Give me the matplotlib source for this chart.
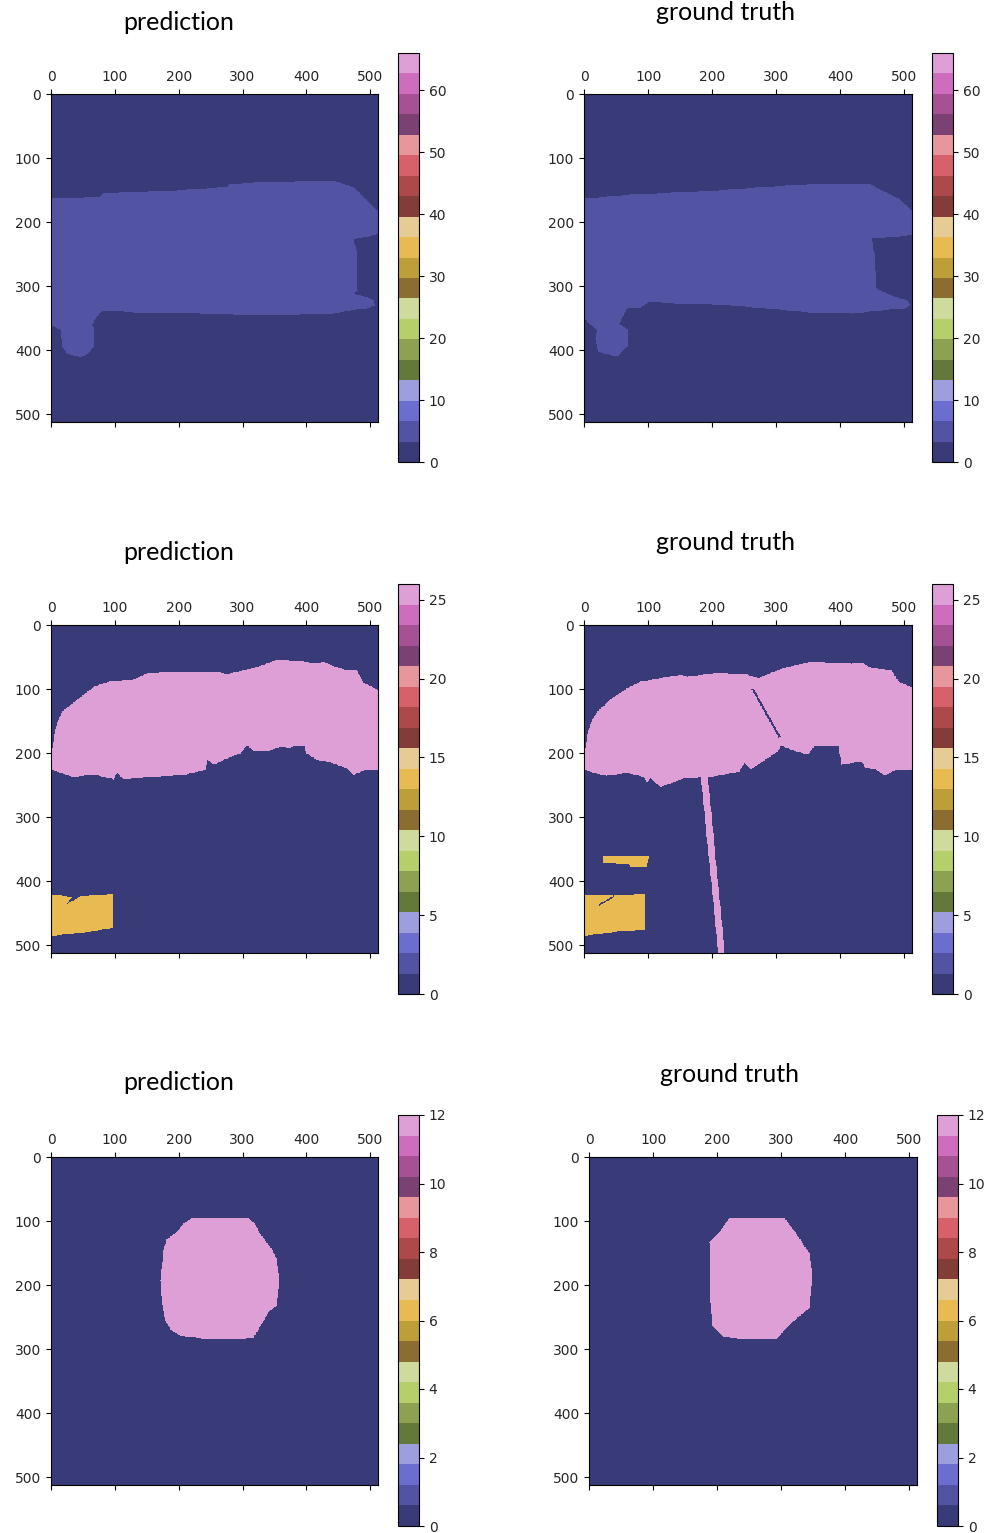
import numpy as np
import matplotlib
matplotlib.use("Agg")
import matplotlib.pyplot as plt
from matplotlib.path import Path

plt.rcParams["font.family"] = ["DejaVu Sans"]

# ---------------- data ----------------
IMG_SIZE = 513

# row 1 : class values and colorbar ranges
row1_vmax = 66
row1_ticks = [0, 10, 20, 30, 40, 50, 60]
row1_object_value = 5
row1_pred_outline = [(0, 163), (77, 160), (82, 155), (129, 153), (197, 150), (276, 145), (281, 140),
                     (338, 137), (427, 135), (443, 135), (474, 145), (495, 166), (510, 181), (513, 181),
                     (513, 218), (495, 223), (474, 227), (479, 244), (480, 307), (474, 312), (495, 317),
                     (505, 322), (508, 330), (495, 335), (469, 338), (443, 343), (390, 344), (286, 344),
                     (234, 343), (129, 341), (82, 338), (72, 346), (64, 361), (68, 367), (67, 394),
                     (57, 406), (46, 411), (25, 406), (17, 395), (15, 369), (2, 362), (0, 343)]
row1_gt_outline = [(0, 163), (72, 157), (197, 151), (281, 145), (380, 139), (443, 139), (463, 150),
                   (490, 163), (510, 181), (514, 187), (514, 220), (448, 226), (452, 249), (456, 304),
                   (479, 315), (503, 322), (508, 330), (500, 335), (463, 338), (417, 343), (360, 342),
                   (229, 330), (140, 327), (101, 325), (88, 333), (67, 335), (54, 359), (67, 367),
                   (67, 395), (51, 410), (22, 403), (17, 382), (20, 369), (0, 351)]

# row 2
row2_vmax = 26
row2_ticks = [0, 5, 10, 15, 20, 25]
row2_umbrella_value = 26
row2_chair_value = 13
row2_pred_canopy = [(-1, 218), (4, 174), (9, 153), (17, 135), (41, 116), (67, 96), (93, 87), (129, 85),
                    (150, 75), (208, 72), (265, 74), (276, 76), (317, 67), (354, 54), (390, 56), (417, 60),
                    (427, 57), (443, 64), (458, 69), (479, 70), (490, 90), (513, 101), (513, 226),
                    (490, 227), (474, 234), (463, 223), (436, 214), (416, 210), (400, 200), (397, 188),
                    (380, 189), (375, 192), (360, 190), (343, 196), (317, 196), (307, 188), (297, 200),
                    (276, 208), (255, 218), (244, 210), (242, 226), (208, 234), (155, 237), (114, 241),
                    (103, 230), (98, 241), (67, 233), (35, 237), (15, 231), (-1, 225)]
row2_pred_chair = [(-1, 421), (33, 425), (23, 437), (46, 424), (88, 421), (97, 420), (97, 473),
                   (62, 479), (-1, 486)]
row2_gt_canopy = [(-1, 218), (4, 174), (12, 148), (20, 135), (41, 116), (67, 98), (88, 88), (151, 77),
                  (161, 80), (208, 74), (255, 77), (271, 83), (292, 74), (317, 65), (354, 57), (417, 60),
                  (432, 58), (448, 67), (479, 70), (490, 88), (513, 98), (513, 226), (484, 227),
                  (469, 235), (453, 225), (438, 223), (433, 213), (401, 218), (396, 188), (359, 189),
                  (349, 202), (323, 195), (307, 188), (302, 197), (281, 211), (260, 225), (250, 215),
                  (242, 229), (197, 237), (156, 239), (119, 253), (103, 239), (98, 247), (93, 237),
                  (67, 231), (35, 235), (15, 231), (-1, 225)]
row2_gt_pole = [(181, 230), (192, 230), (219, 513), (209, 513)]
row2_gt_slit = [(261, 100), (264, 99), (306, 174), (303, 175)]
row2_gt_chair = [(-1, 421), (46, 423), (93, 420), (95, 420), (94, 476), (51, 479), (-1, 486)]
row2_gt_chair_slit = [(23, 436), (46, 423), (47, 425), (24, 438)]
row2_gt_bar = [(29, 361), (101, 360), (98, 377), (72, 378), (70, 374), (30, 372)]

# row 3
row3_vmax = 12
row3_ticks = [0, 2, 4, 6, 8, 10, 12]
row3_object_value = 12
row3_pred_blob = [(222, 94), (307, 94), (318, 102), (328, 120), (346, 144), (354, 159), (357, 193),
                  (354, 232), (342, 240), (333, 256), (317, 282), (294, 284), (244, 284), (202, 279),
                  (187, 269), (179, 256), (174, 230), (171, 193), (176, 146), (181, 128), (197, 117),
                  (207, 104)]
row3_gt_blob = [(220, 94), (257, 95), (306, 96), (324, 120), (345, 151), (348, 183), (345, 235),
                (335, 243), (314, 261), (293, 284), (241, 284), (210, 281), (192, 264), (189, 209),
                (188, 133), (205, 115)]

axis_ticks = [0, 100, 200, 300, 400, 500]
titles = ["prediction", "ground truth"]

# ---------------- helpers ----------------
yy, xx = np.mgrid[0:IMG_SIZE, 0:IMG_SIZE]
grid_pts = np.column_stack([xx.ravel(), yy.ravel()])


def paint(mask_img, outline, value):
    inside = Path(outline).contains_points(grid_pts).reshape(IMG_SIZE, IMG_SIZE)
    mask_img[inside] = value


def make(layers):
    img = np.zeros((IMG_SIZE, IMG_SIZE))
    for outline, value in layers:
        paint(img, outline, value)
    return img


panels = [
    # (image, vmax, ticks, title, axes px box, cbar px box, title pos)
    (make([(row1_pred_outline, row1_object_value)]), row1_vmax, row1_ticks, titles[0],
     (51, 94, 378, 422), (398, 53, 419, 462), (179, 22)),
    (make([(row1_gt_outline, row1_object_value)]), row1_vmax, row1_ticks, titles[1],
     (584, 94, 912, 422), (932, 53, 953, 462), (725, 12)),
    (make([(row2_pred_canopy, row2_umbrella_value), (row2_pred_chair, row2_chair_value)]),
     row2_vmax, row2_ticks, titles[0],
     (51, 625, 378, 953), (398, 584, 419, 994), (179, 552)),
    (make([(row2_gt_canopy, row2_umbrella_value), (row2_gt_pole, row2_umbrella_value),
           (row2_gt_slit, 0), (row2_gt_chair, row2_chair_value), (row2_gt_chair_slit, 0),
           (row2_gt_bar, row2_chair_value)]),
     row2_vmax, row2_ticks, titles[1],
     (584, 625, 912, 953), (932, 584, 953, 994), (725, 542)),
    (make([(row3_pred_blob, row3_object_value)]), row3_vmax, row3_ticks, titles[0],
     (51, 1157, 378, 1485), (398, 1115, 419, 1526), (179, 1083)),
    (make([(row3_gt_blob, row3_object_value)]), row3_vmax, row3_ticks, titles[1],
     (589, 1157, 917, 1485), (937, 1115, 958, 1526), (730, 1074)),
]

W, H = 989, 1533
fig = plt.figure(figsize=(W / 100, H / 100), dpi=100)
TXT = "#262626"


def box(x0, y0, x1, y1):
    return [x0 / W, 1 - y1 / H, (x1 - x0) / W, (y1 - y0) / H]


for img, vmax, cticks, title, abox, cbox, tpos in panels:
    ax = fig.add_axes(box(*abox))
    im = ax.imshow(img, cmap="tab20b", vmin=0, vmax=vmax, interpolation="nearest", aspect="auto")
    ax.xaxis.set_ticks_position("both")
    ax.tick_params(axis="x", labeltop=True, labelbottom=False, labelsize=10, labelcolor=TXT)
    ax.tick_params(axis="y", labelsize=10, labelcolor=TXT)
    ax.set_xticks(axis_ticks)
    ax.set_yticks(axis_ticks)
    cax = fig.add_axes(box(*cbox))
    cb = fig.colorbar(im, cax=cax, ticks=cticks)
    cb.ax.tick_params(labelsize=10, labelcolor=TXT)
    fig.text(tpos[0] / W, 1 - tpos[1] / H, title, ha="center", va="center",
             fontsize=18, fontfamily="Lato")

fig.savefig("out.png", dpi=100)
